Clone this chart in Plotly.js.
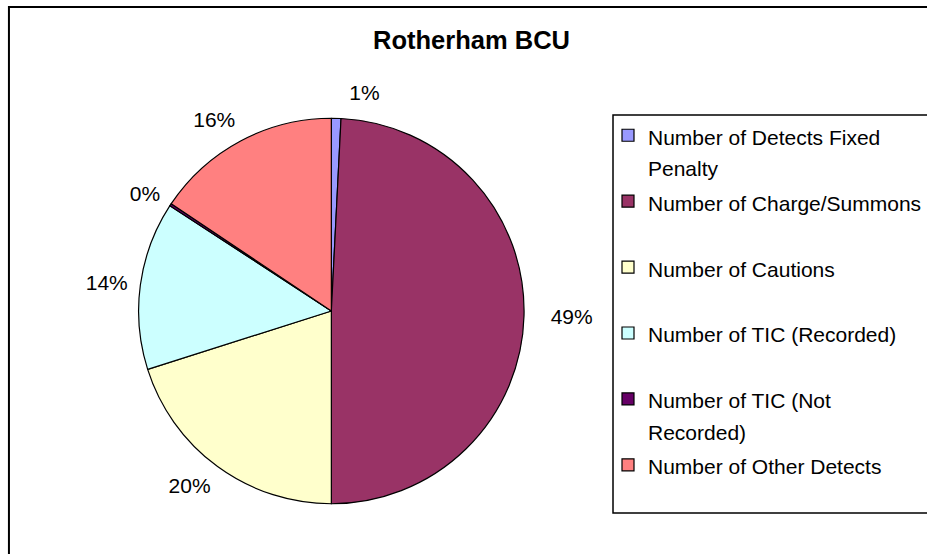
<!DOCTYPE html>
<html>
<head>
<meta charset="utf-8">
<script src="https://cdn.plot.ly/plotly-3.0.1.min.js"></script>
<style>
  html, body { margin: 0; padding: 0; background: #ffffff; }
  #chart { width: 927px; height: 554px; }
</style>
</head>
<body>
<div id="chart"></div>
<script>
// ---- data (percentages of total) ----
var categories = [
  "Number of Detects Fixed Penalty",
  "Number of Charge/Summons",
  "Number of Cautions",
  "Number of TIC (Recorded)",
  "Number of TIC (Not Recorded)",
  "Number of Other Detects"
];
var values = [0.8, 49.2, 20.1, 14.1, 0.2, 15.6];
var sliceColors = ["#9999FF", "#993366", "#FFFFCC", "#CCFFFF", "#660066", "#FF8080"];
// legend text lines as wrapped in the reference
var legendLines = [
  ["Number of Detects Fixed", "Penalty"],
  ["Number of Charge/Summons", "\u00a0"],
  ["Number of Cautions", "\u00a0"],
  ["Number of TIC (Recorded)", "\u00a0"],
  ["Number of TIC (Not", "Recorded)"],
  ["Number of Other Detects", "\u00a0"]
];

var W = 927, H = 554;
function px(x) { return x / W; }
function py(y) { return 1 - y / H; }

var FONT = "Liberation Sans, Arial, sans-serif";
var legendTextSize = 21;
var legendText = legendLines.map(function (lines) {
  return lines.map(function (s) {
    return "<span style=\"font-size:" + legendTextSize + "px\">" + s + "</span>";
  }).join("<br>");
});

// pie geometry (pixels)
var CX = 333.5, CY = 311, R = 194;
var CX_LABEL = 340.5, R_LABEL = 208;

var pieTrace = {
  type: "pie",
  labels: legendText,
  values: values,
  customdata: categories,
  sort: false,
  direction: "clockwise",
  rotation: 0,
  marker: { colors: sliceColors, line: { color: "#000000", width: 1.2 } },
  textinfo: "none",
  hovertemplate: "%{customdata}: %{value}<extra></extra>",
  domain: { x: [px(CX - R), px(CX + R)], y: [py(CY + R), py(CY - R)] }
};

// transparent copy of the same pie, slightly larger, only carrying the
// percentage labels so they sit a little further out as in the reference
var labelTrace = {
  type: "pie",
  labels: legendText,
  values: values,
  sort: false,
  direction: "clockwise",
  rotation: 0,
  showlegend: false,
  hoverinfo: "skip",
  marker: { colors: sliceColors.map(function () { return "rgba(0,0,0,0)"; }),
            line: { width: 0 } },
  texttemplate: "%{percent:.0%}",
  textposition: "outside",
  textfont: { family: FONT, size: 21, color: "#000000" },
  domain: { x: [px(CX_LABEL - R_LABEL), px(CX_LABEL + R_LABEL)], y: [py(CY + R_LABEL), py(CY - R_LABEL)] }
};

var layout = {
  width: W, height: H,
  margin: { l: 0, r: 0, t: 0, b: 0 },
  paper_bgcolor: "#ffffff",
  font: { family: FONT, color: "#000000" },
  title: {
    text: "<b>Rotherham BCU</b>",
    font: { family: FONT, size: 25.5, color: "#000000" },
    x: 471.5 / W, xref: "container", xanchor: "center",
    y: 1 - 40 / H, yref: "container", yanchor: "middle"
  },
  showlegend: true,
  legend: {
    x: px(612), xanchor: "left",
    y: py(113), yanchor: "top",
    font: { family: FONT, size: 24.2, color: "#000000" },
    valign: "top",
    traceorder: "normal",
    borderwidth: 0,
    bgcolor: "rgba(0,0,0,0)"
  },
  shapes: [
    { type: "rect", xref: "paper", yref: "paper",
      x0: px(9), x1: 1.05, y0: py(7), y1: -0.05,
      line: { color: "#000000", width: 2 }, fillcolor: "rgba(0,0,0,0)", layer: "above" },
    { type: "rect", xref: "paper", yref: "paper",
      x0: px(617), x1: 1.05, y0: py(115), y1: py(513),
      line: { color: "#000000", width: 1.5 }, fillcolor: "rgba(0,0,0,0)", layer: "above" }
  ]
};

Plotly.newPlot("chart", [pieTrace, labelTrace], layout, { displayModeBar: false, staticPlot: true });
</script>
</body>
</html>
